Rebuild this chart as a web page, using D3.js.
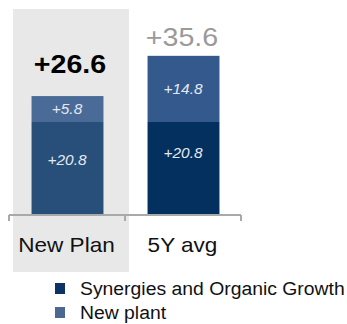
<!DOCTYPE html>
<html>
<head>
<meta charset="utf-8">
<script src="https://cdn.jsdelivr.net/npm/d3@7"></script>
<style>
  html, body { margin: 0; padding: 0; background: #ffffff; }
  svg { display: block; }
  text { font-family: "Liberation Sans", Arial, sans-serif; }
</style>
</head>
<body>
<svg id="chart" width="347" height="324"></svg>
<script>
// Chart data
const categories = ["New Plan", "5Y avg"];
const seriesNames = ["Synergies and Organic Growth", "New plant"];
const synergies = [20.8, 20.8];
const newPlant = [5.8, 14.8];
const totals = [26.6, 35.6];

const W = 347, H = 324;
const svg = d3.select("#chart");
const stretch = 1.1;   // horizontal stretch of all lettering

// Scales
const x = d3.scaleBand().domain(categories).range([9, 241]).paddingInner(0).paddingOuter(0);
const y = d3.scaleLinear().domain([0, 40]).range([215, 215 - 40 * (93 / 20.8)]);
const barW = x.bandwidth() * 0.62;

// Colours: first bar is shown as the highlighted "plan" column with muted tones
const colors = {
  base:  ["#274f79", "#03305f"],
  top:   ["#4a6b97", "#34598c"],
  legend: ["#0b3363", "#4a6890"]
};

function stretchedText(sel, tx, ty) {
  return sel.attr("transform", `translate(${tx},${ty}) scale(${stretch},1)`);
}

// Highlight panel behind the first category
svg.append("rect")
  .attr("x", x(categories[0]) + 4)
  .attr("y", 9)
  .attr("width", x.bandwidth())
  .attr("height", 263)
  .attr("fill", "#e8e8e8");

// Stacked data
const rows = categories.map((c, i) => ({ cat: c, synergies: synergies[i], plant: newPlant[i], total: totals[i], i }));
const stack = d3.stack().keys(["synergies", "plant"]);
const layers = stack(rows);

const barX = d => x(d.data.cat) + (x.bandwidth() - barW) / 2 + 0.5;

layers.forEach((layer, li) => {
  const g = svg.append("g");
  g.selectAll("rect")
    .data(layer)
    .join("rect")
    .attr("x", barX)
    .attr("width", barW)
    .attr("y", d => y(d[1]))
    .attr("height", d => y(d[0]) - y(d[1]))
    .attr("fill", d => li === 0 ? colors.base[d.data.i] : colors.top[d.data.i]);

  // Segment value labels
  g.selectAll("text")
    .data(layer)
    .join("text")
    .attr("text-anchor", "middle")
    .attr("font-size", 14)
    .attr("font-style", "italic")
    .attr("fill", "#e4e9f1")
    .each(function (d) {
      const cx = x(d.data.cat) + x.bandwidth() / 2;
      const mid = (y(d[0]) + y(d[1])) / 2;
      const ty = li === 0 ? mid - (d.data.i === 0 ? 4 : 11) : mid + 5;
      stretchedText(d3.select(this), cx, ty);
    })
    .text(d => "+" + d3.format(".1f")(d[1] - d[0]));
});

// Totals above bars
svg.append("g").selectAll("text")
  .data(rows)
  .join("text")
  .attr("text-anchor", "middle")
  .attr("font-size", 26)
  .attr("font-weight", d => d.i === 0 ? "bold" : "normal")
  .attr("fill", d => d.i === 0 ? "#000000" : "#9a9a9a")
  .each(function (d) {
    const cx = x(d.cat) + x.bandwidth() / 2 + (d.i === 0 ? 3 : -1);
    const ty = y(d.total) - (d.i === 0 ? 23 : 10);
    stretchedText(d3.select(this), cx, ty);
  })
  .text(d => "+" + d3.format(".1f")(d.total));

// Category axis
const axis = d3.axisBottom(x).tickSize(0).tickFormat("");
const axG = svg.append("g").attr("transform", `translate(0,${y(0)})`).call(axis);
axG.select(".domain").attr("stroke", "#a9a9a9").attr("stroke-width", 2)
  .attr("d", `M9,0H241`);
// Boundary ticks between categories
const bounds = [x(categories[0]), x(categories[1]), x(categories[1]) + x.bandwidth()];
axG.selectAll(".bound")
  .data(bounds)
  .join("line")
  .attr("class", "bound")
  .attr("x1", d => d).attr("x2", d => d)
  .attr("y1", 0).attr("y2", 6)
  .attr("stroke", "#a9a9a9")
  .attr("stroke-width", 2);

svg.append("g").selectAll("text")
  .data(categories)
  .join("text")
  .attr("text-anchor", "middle")
  .attr("font-size", 20.5)
  .attr("fill", "#111111")
  .each(function (d) {
    stretchedText(d3.select(this), x(d) + x.bandwidth() / 2 - 0.5, 252);
  })
  .text(d => d);

// Legend
const legend = svg.append("g");
seriesNames.forEach((name, i) => {
  const ly = 283 + i * 24;
  legend.append("rect")
    .attr("x", 55).attr("y", ly)
    .attr("width", 10).attr("height", 11)
    .attr("fill", colors.legend[i]);
  stretchedText(legend.append("text"), 80, ly + 12)
    .attr("font-size", 17.6)
    .attr("fill", "#111111")
    .text(name);
});
</script>
</body>
</html>
